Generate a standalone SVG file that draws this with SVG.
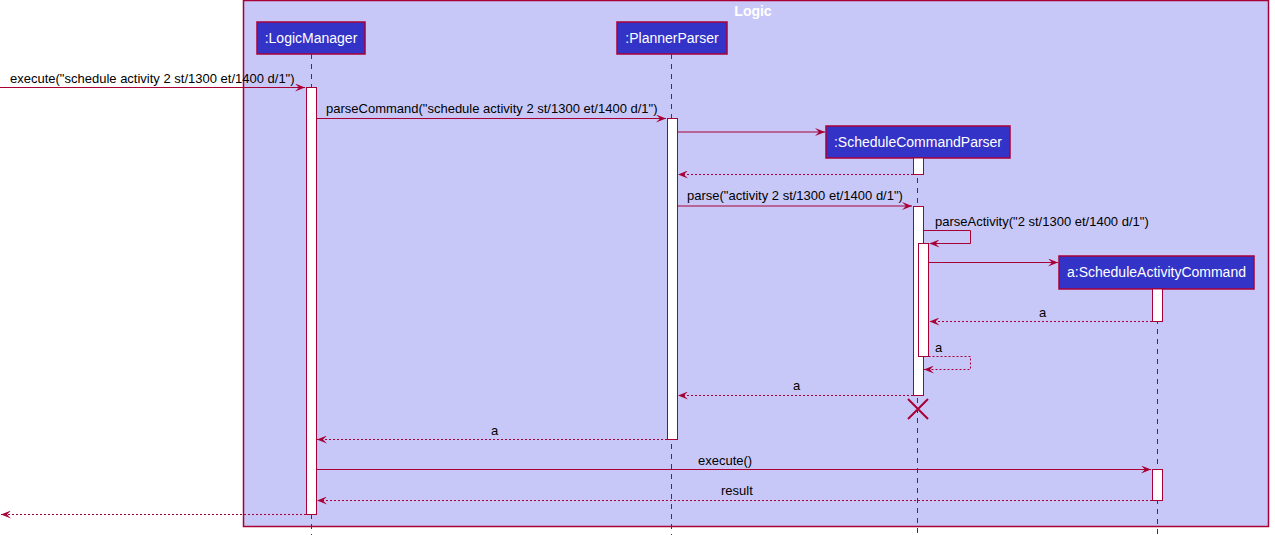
<svg xmlns="http://www.w3.org/2000/svg" width="1275" height="535" viewBox="0 0 1275 535">
<defs>
<style>
.t{font-family:"Liberation Sans",Arial,sans-serif;font-size:13px;fill:#000}
.pt{font-family:"Liberation Sans",Arial,sans-serif;font-size:14px;fill:#fff}
.part{fill:#3333C8;stroke:#A80036;stroke-width:1.5}
.act{fill:#fff;stroke:#A80036;stroke-width:1}
.ll{stroke:#A80036;stroke-width:1;stroke-dasharray:5,5}
.m{stroke:#A80036;stroke-width:1;fill:none}
.r{stroke:#A80036;stroke-width:1;fill:none;stroke-dasharray:2,2}
</style>
<marker id="ah" viewBox="0 0 10 8" refX="10" refY="4" markerWidth="10" markerHeight="8" markerUnits="userSpaceOnUse" orient="auto">
<path d="M0,0 L10,4 L0,8 L4,4 Z" fill="#A80036"/>
</marker>
</defs>
<rect width="1275" height="535" fill="#fff"/>
<g id="logic-box">
<rect x="243.5" y="0.5" width="1025" height="526" fill="#C8C8F8" stroke="#A80036" stroke-width="1.5"/>
<text x="753" y="16" text-anchor="middle" font-family="Liberation Sans,Arial,sans-serif" font-size="14" font-weight="bold" fill="#fff">Logic</text>
</g>
<g id="lifelines">
<line class="ll" x1="311.5" y1="54" x2="311.5" y2="535"/>
<line class="ll" x1="671.5" y1="54" x2="671.5" y2="535"/>
<line class="ll" x1="917.5" y1="158" x2="917.5" y2="535"/>
<line class="ll" x1="1157.5" y1="289" x2="1157.5" y2="535"/>
</g>
<g id="LogicManager">
<rect class="part" x="257" y="22" width="108" height="32"/>
<text class="pt" x="311" y="43" text-anchor="middle">:LogicManager</text>
<rect class="act" x="306.5" y="87.5" width="10" height="427"/>
</g>
<g id="PlannerParser">
<rect class="part" x="617" y="22" width="110" height="32"/>
<text class="pt" x="672" y="43" text-anchor="middle">:PlannerParser</text>
<rect class="act" x="667.5" y="118.5" width="10" height="321"/>
</g>
<g id="ScheduleCommandParser">
<rect class="part" x="826" y="126" width="184" height="32"/>
<text class="pt" x="918" y="147" text-anchor="middle">:ScheduleCommandParser</text>
<rect class="act" x="913.5" y="158" width="10" height="16.5"/>
<rect class="act" x="913.5" y="206.5" width="10" height="189"/>
<rect class="act" x="918.5" y="243.5" width="10" height="113"/>
<path d="M908,399 L928,419 M928,399 L908,419" stroke="#A80036" stroke-width="2"/>
</g>
<g id="ScheduleActivityCommand">
<rect class="part" x="1059" y="256" width="195" height="33"/>
<text class="pt" x="1156.5" y="277" text-anchor="middle">a:ScheduleActivityCommand</text>
<rect class="act" x="1152.5" y="289" width="10" height="32.5"/>
<rect class="act" x="1152.5" y="469.5" width="10" height="31"/>
</g>
<g id="connectors">
<line class="m" x1="0" y1="87.5" x2="305" y2="87.5" marker-end="url(#ah)"/>
<text class="t" x="10" y="83">execute("schedule activity 2 st/1300 et/1400 d/1")</text>
<line class="m" x1="316.5" y1="118.5" x2="666" y2="118.5" marker-end="url(#ah)"/>
<text class="t" x="326" y="113">parseCommand("schedule activity 2 st/1300 et/1400 d/1")</text>
<line class="m" x1="677.5" y1="132" x2="825" y2="132" marker-end="url(#ah)"/>
<line class="r" x1="913" y1="174.5" x2="678" y2="174.5" marker-end="url(#ah)"/>
<line class="m" x1="677.5" y1="206" x2="912" y2="206" marker-end="url(#ah)"/>
<text class="t" x="687" y="200">parse("activity 2 st/1300 et/1400 d/1")</text>
<polyline class="m" points="923.5,230.5 970.5,230.5 970.5,243.5 929.5,243.5" marker-end="url(#ah)"/>
<text class="t" x="935" y="226">parseActivity("2 st/1300 et/1400 d/1")</text>
<line class="m" x1="928.5" y1="262.5" x2="1058" y2="262.5" marker-end="url(#ah)"/>
<line class="r" x1="1152" y1="321.5" x2="929.5" y2="321.5" marker-end="url(#ah)"/>
<text class="t" x="1039" y="317">a</text>
<polyline class="r" points="928.5,356.5 970.5,356.5 970.5,369.5 924,369.5" marker-end="url(#ah)"/>
<text class="t" x="935" y="352">a</text>
<line class="r" x1="913" y1="395.5" x2="678" y2="395.5" marker-end="url(#ah)"/>
<text class="t" x="793" y="390">a</text>
<line class="r" x1="667" y1="439.5" x2="317" y2="439.5" marker-end="url(#ah)"/>
<text class="t" x="491" y="435">a</text>
<line class="m" x1="316.5" y1="469.5" x2="1151" y2="469.5" marker-end="url(#ah)"/>
<text class="t" x="698" y="465">execute()</text>
<line class="r" x1="1152" y1="500.5" x2="317" y2="500.5" marker-end="url(#ah)"/>
<text class="t" x="721" y="495">result</text>
<line class="r" x1="306" y1="514.5" x2="1" y2="514.5" marker-end="url(#ah)"/>
</g>
</svg>
